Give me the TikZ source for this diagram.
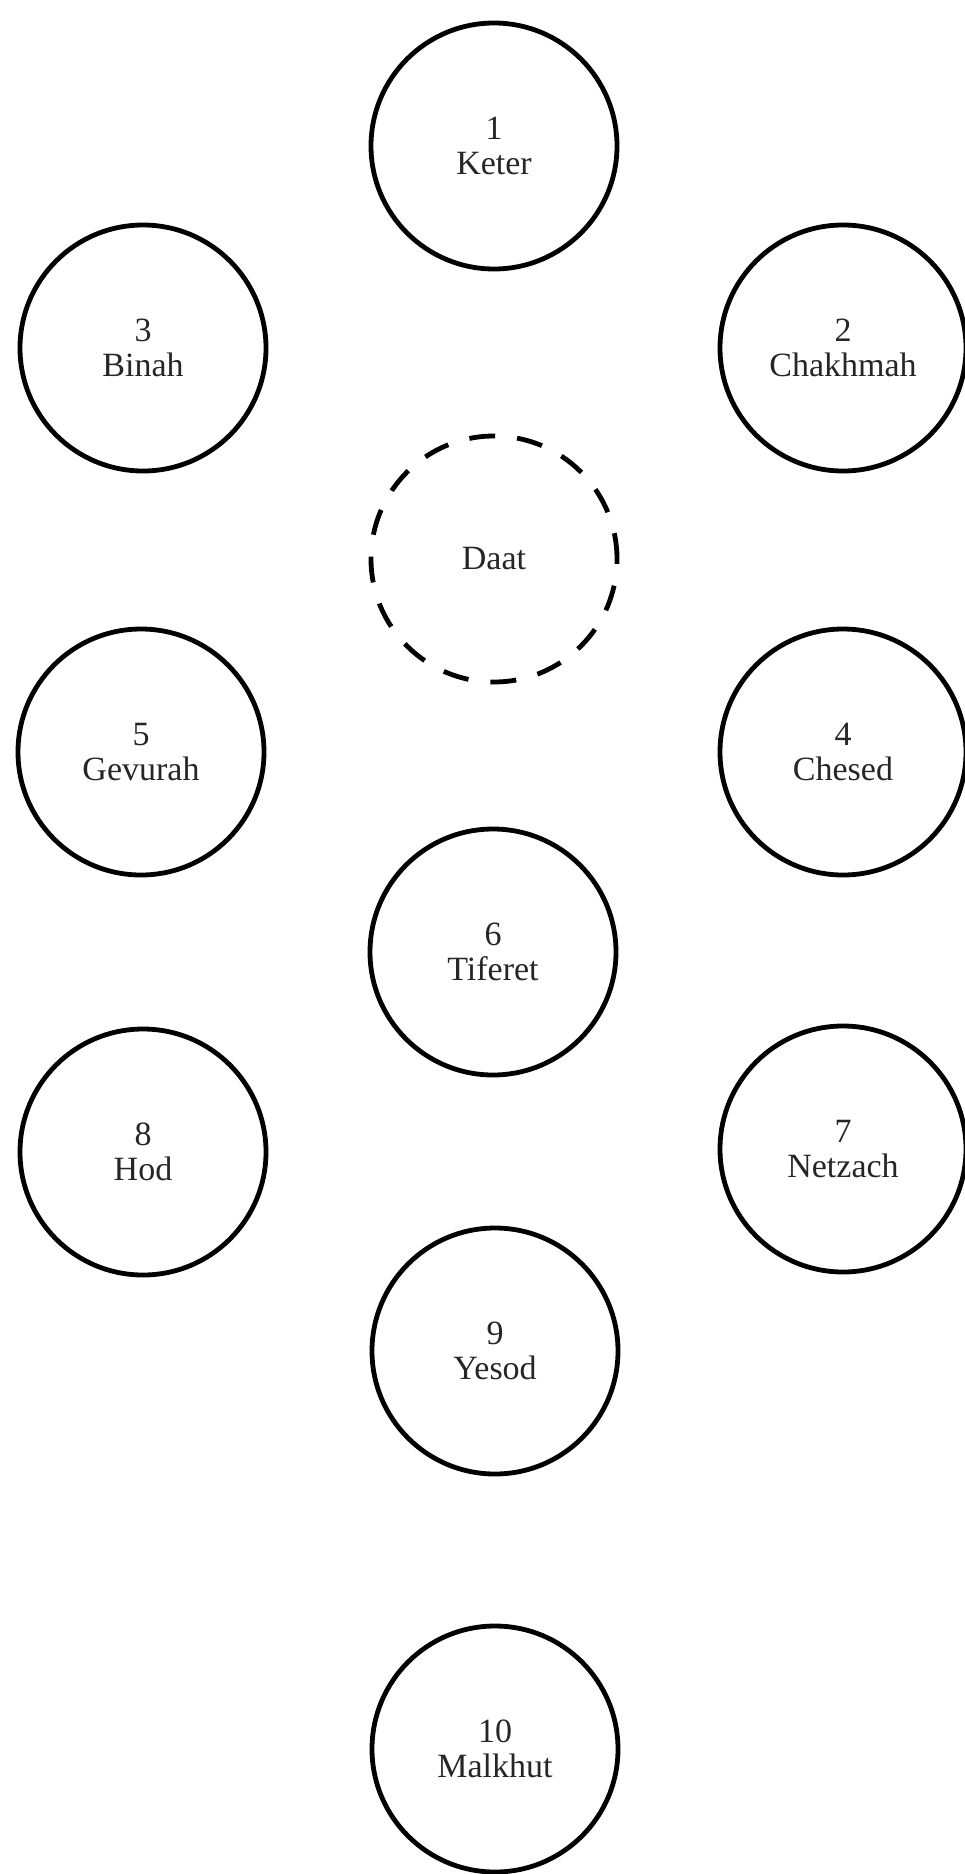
\documentclass[tikz,border=0pt]{standalone}
\usepackage{fontspec}
\setmainfont{Liberation Serif}
\begin{document}
\begin{tikzpicture}[x=1pt,y=-1pt,
  sefira/.style={circle,draw=black,line width=4.8pt,minimum size=246pt,inner sep=0pt,
    align=center,font=\fontsize{34}{35}\selectfont,text=black!85},
  hidden/.style={sefira,dash pattern=on 26pt off 22pt}]
\useasboundingbox (0,0) rectangle (965,1874);
\node[sefira] (keter) at (494,146) {1\\Keter};
\node[sefira] (chakhmah) at (843,348) {2\\Chakhmah};
\node[sefira] (binah) at (143,348) {3\\Binah};
\node[hidden] (daat) at (494,559) {Daat};
\node[sefira] (chesed) at (843,752) {4\\Chesed};
\node[sefira] (gevurah) at (141,752) {5\\Gevurah};
\node[sefira] (tiferet) at (493,952) {6\\Tiferet};
\node[sefira] (netzach) at (843,1149) {7\\Netzach};
\node[sefira] (hod) at (143,1152) {8\\Hod};
\node[sefira] (yesod) at (495,1351) {9\\Yesod};
\node[sefira] (malkhut) at (495,1749) {10\\Malkhut};
\end{tikzpicture}
\end{document}
